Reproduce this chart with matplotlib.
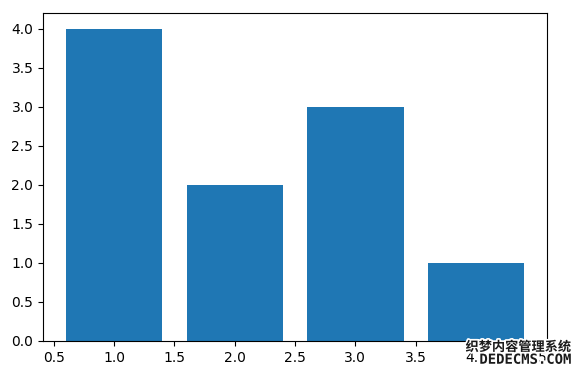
import matplotlib.pyplot as plt
import matplotlib.patheffects as pe

x = [1, 2, 3, 4]
heights = [4, 2, 3, 1]

fig = plt.figure(figsize=(5.82, 3.75), dpi=100)
ax = fig.add_axes([0.074, 0.091, 0.866, 0.874])
ax.bar(x, heights)

# watermark in the corner, it sits over the last tick label like the original
outline = [pe.withStroke(linewidth=2.5, foreground='white')]
fig.text(0.982, 0.056, '织梦内容管理系统', ha='right', va='bottom', fontsize=9.5,
         fontweight='bold', family=['Noto Sans CJK SC', 'DejaVu Sans'],
         color='#1a1a1a', path_effects=outline)
fig.text(0.982, 0.022, 'DEDECMS.COM', ha='right', va='bottom', fontsize=10,
         fontweight='bold', family='DejaVu Sans Mono', color='#1a1a1a',
         path_effects=outline)

fig.savefig('out.png', dpi=100)
